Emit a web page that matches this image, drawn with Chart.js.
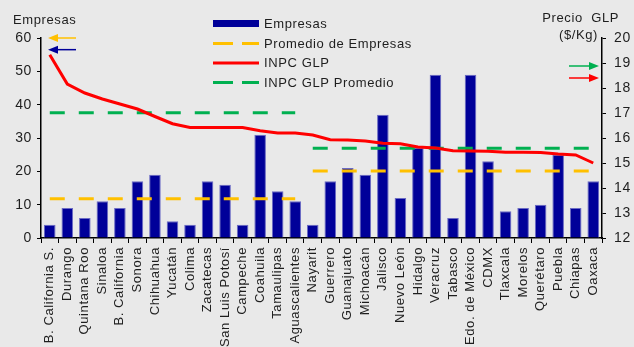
<!DOCTYPE html>
<html>
<head>
<meta charset="utf-8">
<script src="https://cdn.jsdelivr.net/npm/chart.js@4/dist/chart.umd.min.js"></script>
<style>
  html, body { margin: 0; padding: 0; background: #e9e9e9; }
  #wrap { position: relative; width: 634px; height: 347px; }
</style>
</head>
<body>
<div id="wrap"><canvas id="c" width="634" height="347"></canvas></div>
<script>
// Entidades ordenadas por precio del GLP
const estados = [
  'B. California S.', 'Durango', 'Quintana Roo', 'Sinaloa', 'B. California', 'Sonora',
  'Chihuahua', 'Yucatán', 'Colima', 'Zacatecas', 'San Luis Potosí', 'Campeche',
  'Coahuila', 'Tamaulipas', 'Aguascalientes', 'Nayarit', 'Guerrero', 'Guanajuato',
  'Michoacán', 'Jalisco', 'Nuevo León', 'Hidalgo', 'Veracruz', 'Tabasco',
  'Edo. de México', 'CDMX', 'Tlaxcala', 'Morelos', 'Querétaro', 'Puebla',
  'Chiapas', 'Oaxaca'
];

// Número de empresas por entidad (eje izquierdo)
const empresas = [4, 9, 6, 11, 9, 17, 19, 5, 4, 17, 16, 4, 31, 14, 11,
                  4, 17, 21, 19, 37, 12, 27, 49, 6, 49, 23, 8, 9, 10, 25, 9, 17];

// INPC GLP, precio en $/Kg (eje derecho)
const inpcGlp = [19.33, 18.16, 17.80, 17.56, 17.36, 17.16, 16.86, 16.57, 16.42, 16.42,
                 16.42, 16.42, 16.29, 16.20, 16.20, 16.12, 15.93, 15.92, 15.88, 15.79,
                 15.77, 15.64, 15.60, 15.49, 15.48, 15.47, 15.43, 15.43, 15.42, 15.36,
                 15.32, 15.00];

// Promedios por grupo: el primer grupo termina en el índice corteGrupo
const corteGrupo = 14;
const promedioEmpresasGrupos = [11.8, 20.1];
const inpcPromedioGrupos = [17.01, 15.59];

// Ejes
const ticksEmpresas = { min: 0, max: 60, step: 10 };
const ticksPrecio = { min: 12, max: 20, step: 1 };

// Flechas que señalan el eje de cada serie
const flechas = [
  { eje: 'y',  valor: 60,   color: '#FFC000', lado: 'izq' },
  { eje: 'y',  valor: 56.5, color: '#000099', lado: 'izq' },
  { eje: 'y2', valor: 18.88, color: '#00B050', lado: 'der' },
  { eje: 'y2', valor: 18.4, color: '#FF0000', lado: 'der' }
];

const porGrupo = (g) => estados.map((_, i) => (i <= corteGrupo ? g[0] : g[1]));
const promedioEmpresas = porGrupo(promedioEmpresasGrupos);
const inpcPromedio = porGrupo(inpcPromedioGrupos);

const FONT = '"Liberation Sans", Arial, sans-serif';
const TXT = '#1e1e1e';

const cortarEn = (color) => (ctx) => (ctx.p0DataIndex === corteGrupo ? 'rgba(0,0,0,0)' : color);

const estilo = {
  id: 'estilo',
  beforeDraw(chart) {
    const ctx = chart.ctx;
    ctx.save();
    ctx.fillStyle = '#e9e9e9';
    ctx.fillRect(0, 0, chart.width, chart.height);
    ctx.restore();
    if ('letterSpacing' in ctx) ctx.letterSpacing = '0.6px';
  },
  afterDraw(chart) {
    const ctx = chart.ctx;
    const a = chart.chartArea;
    ctx.save();
    ctx.fillStyle = TXT;
    ctx.font = '13px ' + FONT;
    ctx.textBaseline = 'middle';
    // títulos de ejes
    ctx.textAlign = 'left';
    ctx.fillText('Empresas', 13, 20);
    ctx.textAlign = 'right';
    ctx.fillText('Precio  GLP', 619, 18);
    ctx.fillText('($/Kg)', 598, 35);

    // leyenda
    const lx = 213, tx = 264, rows = [23.5, 43.5, 63, 82.5];
    const items = chart.data.datasets;
    items.forEach((ds, k) => {
      const y = rows[k];
      ctx.save();
      if (ds.type === 'bar') {
        ctx.fillStyle = ds.backgroundColor;
        ctx.fillRect(lx, y - 3.5, 46, 7);
      } else {
        ctx.strokeStyle = ds.borderColor;
        ctx.lineWidth = 3;
        ctx.setLineDash(ds.borderDash && ds.borderDash.length ? [20, 9] : []);
        ctx.beginPath();
        ctx.moveTo(lx, y);
        ctx.lineTo(lx + 46, y);
        ctx.stroke();
      }
      ctx.restore();
      ctx.textAlign = 'left';
      ctx.fillStyle = TXT;
      ctx.fillText(ds.label, tx, y + 0.5);
    });

    // flechas
    flechas.forEach((f) => {
      const y = chart.scales[f.eje].getPixelForValue(f.valor);
      let x0, x1;
      if (f.lado === 'izq') { x0 = a.left + 35; x1 = a.left + 7; }
      else { x0 = a.right - 33; x1 = a.right - 3; }
      const dir = Math.sign(x1 - x0);
      ctx.strokeStyle = f.color;
      ctx.fillStyle = f.color;
      ctx.lineWidth = 1.5;
      ctx.beginPath();
      ctx.moveTo(x0, y);
      ctx.lineTo(x1 - dir * 8, y);
      ctx.stroke();
      ctx.beginPath();
      ctx.moveTo(x1, y);
      ctx.lineTo(x1 - dir * 10, y - 4);
      ctx.lineTo(x1 - dir * 10, y + 4);
      ctx.closePath();
      ctx.fill();
    });
    ctx.restore();
  }
};

new Chart(document.getElementById('c'), {
  data: {
    labels: estados,
    datasets: [
      {
        type: 'bar', label: 'Empresas', data: empresas, yAxisID: 'y',
        backgroundColor: '#000099', borderColor: '#6a6ac4', borderWidth: 1,
        barPercentage: 0.66, categoryPercentage: 1, order: 10
      },
      {
        type: 'line', label: 'Promedio de Empresas', data: promedioEmpresas, yAxisID: 'y',
        borderColor: '#FFC000', borderWidth: 3, borderDash: [15, 14], pointRadius: 0,
        segment: { borderColor: cortarEn('#FFC000') }, order: 3
      },
      {
        type: 'line', label: 'INPC GLP', data: inpcGlp, yAxisID: 'y2',
        borderColor: '#FF0000', borderWidth: 3, pointRadius: 0, tension: 0, order: 1
      },
      {
        type: 'line', label: 'INPC GLP Promedio', data: inpcPromedio, yAxisID: 'y2',
        borderColor: '#00B050', borderWidth: 3, borderDash: [15, 14], pointRadius: 0,
        segment: { borderColor: cortarEn('#00B050') }, order: 2
      }
    ]
  },
  options: {
    responsive: false,
    animation: false,
    devicePixelRatio: 1,
    layout: { padding: { top: 38, left: 0, right: 0, bottom: 0 } },
    plugins: { legend: { display: false }, tooltip: { enabled: false } },
    scales: {
      x: {
        offset: true,
        grid: { offset: true, drawOnChartArea: false, color: '#000', tickLength: 5, lineWidth: 1 },
        border: { color: '#000', width: 1.5 },
        ticks: {
          autoSkip: false, minRotation: 90, maxRotation: 90, padding: 4,
          color: TXT, font: { family: FONT, size: 13 }
        },
        afterFit(s) { s.height = 109; }
      },
      y: {
        position: 'left', min: ticksEmpresas.min, max: ticksEmpresas.max,
        grid: { drawOnChartArea: false, color: '#000', tickLength: 4 },
        border: { color: '#000', width: 1.5 },
        ticks: { stepSize: ticksEmpresas.step, padding: 5, color: TXT, font: { family: FONT, size: 14 } },
        afterFit(s) { s.width = 41; }
      },
      y2: {
        position: 'right', min: ticksPrecio.min, max: ticksPrecio.max,
        grid: { drawOnChartArea: false, color: '#000', tickLength: 4 },
        border: { color: '#000', width: 1.5 },
        ticks: { stepSize: ticksPrecio.step, padding: 8, color: TXT, font: { family: FONT, size: 14 } },
        afterFit(s) { s.width = 32; }
      }
    }
  },
  plugins: [estilo]
});
</script>
</body>
</html>
